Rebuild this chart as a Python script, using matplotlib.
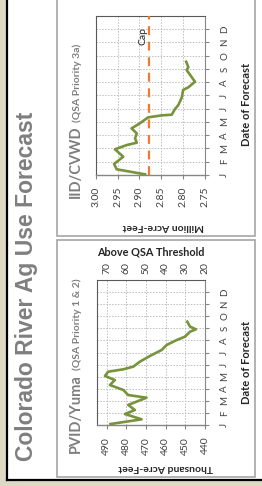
import matplotlib
matplotlib.use("Agg")
import matplotlib.pyplot as plt
from matplotlib.patches import Rectangle
from matplotlib.lines import Line2D

W, H = 262, 486

months = ['J', 'F', 'M', 'A', 'M', 'J', 'J', 'A', 'S', 'O', 'N', 'D']

# IID/CVWD forecast: month offset from Jan 1, million acre-feet
iid_month = [0.05, 0.43, 0.83, 1.38, 1.94, 2.26, 2.44, 2.77, 3.14, 3.52, 3.90, 4.35,
             4.50, 4.55, 4.96, 5.28, 5.86, 6.42, 6.62, 7.04, 7.55, 7.92, 8.13, 8.55]
iid_maf = [2.887, 2.952, 2.958, 2.937, 2.956, 2.929, 2.906, 2.910, 2.906, 2.918, 2.899, 2.880,
           2.849, 2.826, 2.819, 2.811, 2.803, 2.800, 2.788, 2.773, 2.784, 2.792, 2.788, 2.793]
iid_cap = 2.877
iid_ticks = [3.00, 2.95, 2.90, 2.85, 2.80, 2.75]

# PVID/Yuma forecast: month offset from Jan 1, thousand acre-feet
pvid_month = [0.08, 0.47, 0.91, 1.24, 1.66, 2.26, 2.48, 2.90, 3.31, 3.72, 4.06, 4.41,
              4.61, 4.83, 5.24, 5.71, 6.21, 6.62, 7.03, 7.31, 7.72, 7.92, 8.14, 8.55]
pvid_kaf = [488.0, 472.2, 480.7, 475.6, 479.0, 469.7, 479.0, 481.5, 488.3, 485.8, 490.8, 489.2,
            481.5, 476.4, 473.1, 468.0, 462.0, 459.5, 454.4, 450.2, 447.6, 444.6, 447.6, 449.0]
pvid_ticks = [490, 480, 470, 460, 450, 440]
qsa_ticks = [70, 60, 50, 40, 30, 20]   # above QSA threshold (= value - 420)

green = '#77933c'
orange = '#ec7c30'
grey_txt = '#7f7f7f'
grid_c = '#bdbdbd'
lab_font = ['Lato', 'DejaVu Sans']

fig = plt.figure(figsize=(W / 100, H / 100), dpi=100, facecolor='#ddd9c4')


def fx(x):
    return x / W


def fy(y):
    return 1 - y / H


def ftext(x, y, s, **kw):
    return fig.text(fx(x), fy(y), s, **kw)


# white sheet with black edge, then the two grey panels
fig.patches.append(Rectangle((fx(7), fy(480)), 1, 480 / H, transform=fig.transFigure,
                             facecolor='white', edgecolor='none', zorder=-3))
fig.lines.append(Line2D([fx(7), fx(7)], [fy(480), 1], transform=fig.transFigure, color='black', lw=1.6))
fig.lines.append(Line2D([fx(7), 1], [fy(480), fy(480)], transform=fig.transFigure, color='black', lw=1.6))
for top, bot in [(-5, 236), (240, 477)]:
    fig.patches.append(Rectangle((fx(57), fy(bot)), (255 - 57) / W, (bot - top) / H,
                                 transform=fig.transFigure, facecolor='white',
                                 edgecolor='#a6a6a6', lw=1.2, zorder=-2))


def style_axes(ax):
    ax.set_ylim(0, 12)
    ax.set_yticks(range(12))
    ax.grid(True, ls=(0, (1.5, 1.5)), color=grid_c, lw=0.7)
    ax.set_axisbelow(True)
    ax.yaxis.tick_right()
    ax.set_yticklabels(months, rotation=90, fontsize=7, family=lab_font, color='#404040', va='center')
    ax.tick_params(axis='y', length=3, pad=8, color='#868686')
    ax.tick_params(axis='x', length=3, pad=5.5, color='#868686', labelsize=7.5, labelcolor='#404040')
    for s in ['left', 'top']:
        ax.spines[s].set_color('#595959')
    for s in ['right', 'bottom']:
        ax.spines[s].set_color('#868686')
    ax.spines['bottom'].set_linewidth(1.0)


# ---- IID/CVWD ----
ax1 = fig.add_axes([fx(95.7), fy(175), (205 - 95.7) / W, 159 / H])
ax1.set_xlim(3.00, 2.75)
ax1.set_xticks(iid_ticks)
ax1.set_xticklabels(['%.2f' % v for v in iid_ticks], rotation=90, family=lab_font)
style_axes(ax1)
ax1.axvline(iid_cap, color=orange, ls=(0, (4, 3)), lw=1.6, zorder=3)
ax1.text(2.892, 10.5, 'Cap', rotation=90, ha='center', va='center', fontsize=7.5,
         family=lab_font, color='#262626')
ax1.plot(iid_maf, iid_month, color=green, lw=1.9, zorder=4, solid_joinstyle='round')

# ---- PVID/Yuma ----
ax2 = fig.add_axes([fx(97.3), fy(425), (205 - 97.3) / W, 145 / H])
ax2.set_xlim(494.7, 440)
ax2.set_xticks(pvid_ticks)
ax2.set_xticklabels([str(v) for v in pvid_ticks], rotation=90, family=lab_font)
style_axes(ax2)
ax2.plot(pvid_kaf, pvid_month, color=green, lw=1.9, zorder=4, solid_joinstyle='round')
ax2t = ax2.twiny()
ax2t.set_xlim(494.7 - 420, 20)
ax2t.set_xticks(qsa_ticks)
ax2t.set_xticklabels([str(v) for v in qsa_ticks], rotation=90, family=lab_font)
ax2t.tick_params(axis='x', length=0, pad=4, labelsize=7.5, labelcolor='#404040')
for s in ax2t.spines.values():
    s.set_visible(False)

# ---- text ----
ftext(27, 286, 'Colorado River Ag Use Forecast', rotation=90, ha='center', va='center',
      fontsize=16.5, fontweight='bold', color=grey_txt, family='Liberation Sans')

for x0, y0, big, small in [(80, 198, 'IID/CVWD', '(QSA Priority 3a)'),
                           (80, 453, 'PVID/Yuma', '(QSA Priority 1 & 2)')]:
    t = ftext(x0, y0, big, rotation=90, rotation_mode='anchor', ha='left', va='baseline',
              fontsize=10.5, fontweight='bold', color=grey_txt, family=lab_font)
    fig.canvas.draw()
    length = t.get_window_extent().height
    ftext(x0, y0 - length - 4, small, rotation=90, rotation_mode='anchor', ha='left',
          va='baseline', fontsize=7.5, fontweight='bold', color=grey_txt, family=lab_font)

ftext(163, 226, 'Million Acre-Feet', rotation=180, ha='center', va='center', fontsize=7.5,
      fontweight='bold', color='#262626', family=lab_font)
ftext(166, 467, 'Thousand Acre-Feet', rotation=180, ha='center', va='center', fontsize=7.5,
      fontweight='bold', color='#262626', family=lab_font)
ftext(151, 252, 'Above QSA Threshold', ha='center', va='center', fontsize=7.8,
      fontweight='bold', color='#262626', family=lab_font)
ftext(247, 104, 'Date of Forecast', rotation=90, ha='center', va='center', fontsize=8,
      fontweight='bold', color='#262626', family=lab_font)
ftext(247, 362, 'Date of Forecast', rotation=90, ha='center', va='center', fontsize=8,
      fontweight='bold', color='#262626', family=lab_font)

fig.savefig('out.png', dpi=100, facecolor=fig.get_facecolor())
